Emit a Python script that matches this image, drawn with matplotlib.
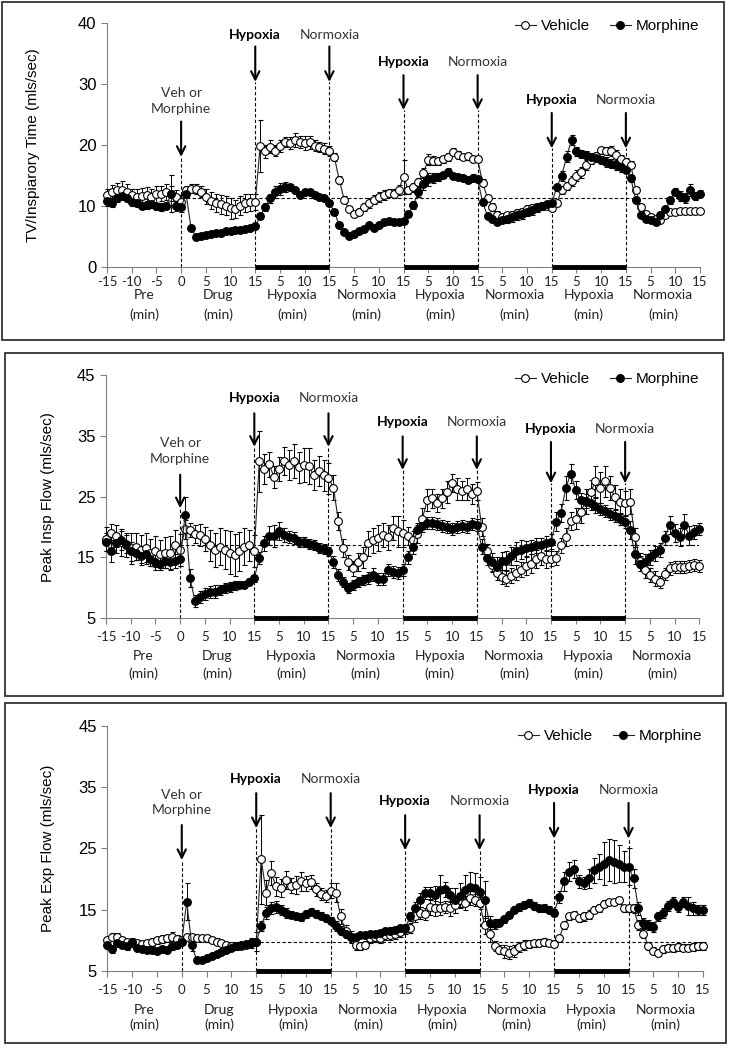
import numpy as np
import matplotlib
matplotlib.use('Agg')
import matplotlib.pyplot as plt
from matplotlib.lines import Line2D
from matplotlib.patches import Rectangle

# time axis: -15..0 pre, then 7 blocks of 15 min (one point per minute)
minutes = np.arange(-15, 106)
tick_pos = np.arange(-15, 106, 5)
tick_labels = ['-15', '-10', '-5', '0', '5', '10', '15'] + ['5', '10', '15'] * 6
segment_names = ['Pre', 'Drug', 'Hypoxia', 'Normoxia', 'Hypoxia', 'Normoxia', 'Hypoxia', 'Normoxia']
segment_centers = [-7.5, 7.5, 22.5, 37.5, 52.5, 67.5, 82.5, 97.5]
event_x = [15, 30, 45, 60, 75, 90]
event_labels = ['Hypoxia', 'Normoxia'] * 3
hypoxia_periods = [(15, 30), (45, 60), (75, 90)]

# ---- TV / inspiratory time
veh_tvti = [11.8, 12.2, 12.5, 12.6, 12.3, 11.8, 11.5, 11.6, 11.8, 11.5, 11.9, 12.0, 12.2, 12.0, 11.5, 10.6,
            12.5, 12.8, 12.7, 12.3, 11.5, 10.8, 10.5, 10.2, 10.0, 9.6, 9.5, 10.0, 10.4, 10.6, 10.6,
            19.8, 18.9, 19.7, 19.0, 19.8, 20.4, 20.3, 20.8, 20.5, 20.3, 20.4, 19.8, 19.6, 19.3, 19.0,
            18.0, 14.2, 11.0, 9.4, 8.6, 9.0, 9.8, 10.4, 11.0, 11.4, 11.8, 12.1, 12.0, 12.6, 14.7,
            12.6, 13.0, 13.9, 15.3, 17.5, 17.4, 17.3, 17.6, 18.0, 18.8, 18.3, 18.0, 18.1, 17.7, 17.6,
            13.8, 11.2, 9.8, 8.5, 8.2, 8.4, 8.5, 8.8, 9.0, 9.4, 9.6, 9.8, 10.0, 10.0, 9.7,
            10.4, 12.6, 13.2, 14.0, 14.9, 15.5, 16.7, 17.5, 18.2, 19.1, 19.0, 19.0, 18.3, 17.6, 17.2,
            16.7, 12.6, 9.8, 8.6, 8.2, 7.8, 7.7, 8.5, 8.9, 9.0, 9.1, 9.1, 9.1, 9.2, 9.2]
veh_tvti_err = [1.0, 1.2, 1.3, 1.5, 1.2, 1.0, 1.2, 1.3, 1.2, 1.3, 1.4, 1.2, 1.3, 1.2, 1.0, 1.2,
                0.8, 0.7, 0.8, 0.9, 1.2, 1.4, 1.5, 1.5, 1.6, 1.7, 1.5, 1.6, 1.5, 1.4, 1.3,
                4.2, 1.0, 1.1, 0.9, 1.0, 0.8, 1.0, 1.1, 1.0, 1.2, 1.1, 0.9, 0.8, 0.9, 0.8,
                0.6, 0.6, 0.6, 0.5, 0.5, 0.6, 0.7, 0.8, 0.8, 0.8, 0.8, 0.7, 0.7, 0.8, 2.8,
                0.6, 0.7, 0.7, 0.8, 0.9, 0.8, 0.7, 0.6, 0.7, 0.6, 0.6, 0.5, 0.6, 0.5, 0.5,
                0.5, 0.5, 0.6, 0.6, 0.6, 0.5, 0.6, 0.6, 0.7, 0.7, 0.7, 0.7, 0.6, 0.5, 0.5,
                0.5, 0.6, 0.7, 0.8, 0.9, 0.9, 0.8, 0.7, 0.6, 0.6, 0.7, 0.8, 0.8, 0.7, 0.6,
                0.6, 0.5, 0.5, 0.4, 0.4, 0.4, 0.4, 0.4, 0.3, 0.3, 0.3, 0.3, 0.3, 0.3, 0.3]
mor_tvti = [10.8, 10.5, 11.2, 11.6, 11.2, 10.6, 10.4, 10.0, 10.1, 10.2, 9.9, 9.8, 10.0, 12.0, 10.0, 9.8,
            11.9, 6.4, 4.9, 5.0, 5.2, 5.4, 5.5, 5.6, 5.8, 5.9, 6.0, 6.0, 6.1, 6.3, 6.6,
            8.3, 9.8, 11.2, 12.3, 12.8, 13.1, 13.0, 12.5, 11.8, 12.2, 12.3, 11.8, 11.5, 11.2, 10.5,
            9.0, 6.8, 5.7, 5.0, 5.4, 5.9, 6.2, 6.8, 6.4, 6.8, 7.3, 7.5, 7.3, 7.4, 7.5,
            8.7, 10.1, 12.3, 13.5, 14.3, 14.6, 14.7, 15.0, 15.6, 14.8, 14.7, 14.5, 14.2, 14.6, 14.3,
            10.6, 8.3, 7.8, 7.4, 7.6, 7.8, 8.1, 8.4, 8.7, 9.0, 9.3, 9.6, 9.9, 10.2, 10.5,
            13.0, 14.9, 18.0, 20.8, 18.9, 18.5, 18.3, 18.0, 17.8, 17.5, 17.2, 16.9, 16.6, 16.3, 15.9,
            14.5, 10.9, 8.5, 7.9, 7.6, 7.4, 8.5, 9.5, 10.9, 12.3, 11.6, 11.3, 12.6, 11.6, 12.0]
mor_tvti_err = [0.8, 0.7, 0.6, 0.6, 0.6, 0.7, 0.6, 0.6, 0.7, 0.6, 0.6, 0.7, 0.6, 3.0, 0.8, 0.9,
                0.5, 0.4, 0.3, 0.3, 0.3, 0.3, 0.3, 0.3, 0.3, 0.3, 0.3, 0.3, 0.3, 0.3, 0.3,
                0.5, 0.7, 0.8, 1.0, 1.0, 0.8, 0.6, 0.5, 0.5, 0.4, 0.4, 0.4, 0.4, 0.4, 0.4,
                0.5, 0.4, 0.3, 0.3, 0.3, 0.3, 0.3, 0.3, 0.3, 0.3, 0.3, 0.3, 0.3, 0.3, 0.3,
                0.5, 0.6, 0.8, 1.0, 1.0, 0.8, 0.6, 0.5, 0.5, 0.5, 0.4, 0.5, 0.5, 0.6, 0.6,
                0.5, 0.4, 0.4, 0.4, 0.5, 0.6, 0.7, 0.7, 0.8, 0.7, 0.8, 0.7, 0.6, 0.6, 0.5,
                0.6, 0.8, 0.9, 0.8, 0.7, 0.6, 0.6, 0.6, 0.7, 0.7, 0.8, 0.8, 0.8, 0.7, 0.6,
                0.6, 0.5, 0.4, 0.4, 0.4, 0.4, 0.5, 0.5, 0.6, 0.6, 0.8, 0.8, 1.0, 0.6, 0.5]

# ---- Peak inspiratory flow
veh_pif = [18.0, 19.0, 18.5, 17.5, 17.0, 16.5, 16.8, 16.2, 16.5, 15.8, 16.0, 15.5, 15.8, 15.7, 17.0, 16.2,
           19.6, 19.5, 18.8, 18.7, 18.0, 17.0, 16.2, 16.8, 16.3, 15.8, 15.4, 16.0, 16.8, 17.0, 16.1,
           30.8, 29.5, 30.3, 28.2, 29.5, 30.8, 30.2, 30.8, 29.8, 30.2, 30.0, 28.6, 29.2, 28.5, 28.0,
           26.5, 21.0, 16.5, 14.2, 13.2, 14.3, 15.0, 17.3, 17.8, 18.2, 18.7, 18.3, 19.8, 19.3, 19.0,
           18.5, 17.8, 18.8, 21.4, 24.5, 24.7, 24.0, 24.7, 25.8, 27.2, 26.3, 26.0, 26.3, 25.4, 25.9,
           20.0, 16.0, 13.8, 12.5, 11.8, 11.5, 12.0, 12.5, 13.0, 13.6, 14.0, 14.8, 15.2, 14.8, 14.8,
           14.9, 17.0, 18.4, 21.0, 21.4, 22.5, 24.2, 25.8, 27.5, 26.5, 27.5, 26.4, 24.9, 24.2, 24.0,
           24.2, 18.3, 14.5, 12.9, 12.1, 11.5, 11.0, 12.3, 13.2, 13.4, 13.4, 13.4, 13.6, 13.7, 13.6]
veh_pif_err = [2.0, 1.5, 1.8, 2.2, 2.0, 2.5, 2.2, 2.5, 2.6, 2.2, 2.5, 2.3, 2.5, 2.8, 2.5, 2.6,
               1.5, 1.2, 1.5, 1.8, 2.0, 2.5, 2.8, 3.0, 3.2, 3.5, 3.5, 3.2, 3.0, 2.5, 2.6,
               5.0, 2.5, 2.0, 1.8, 2.0, 2.3, 2.5, 2.8, 2.6, 2.8, 3.0, 2.5, 2.5, 2.6, 2.5,
               2.0, 1.5, 1.5, 1.2, 1.2, 1.5, 1.8, 2.0, 2.0, 2.2, 2.0, 2.0, 2.0, 2.5, 2.2,
               1.5, 1.5, 1.5, 1.8, 1.8, 1.5, 1.5, 1.5, 1.8, 1.5, 1.8, 1.5, 1.8, 1.6, 1.5,
               1.5, 1.2, 1.2, 1.2, 1.2, 1.2, 1.2, 1.2, 1.2, 1.5, 1.5, 1.5, 1.5, 1.5, 1.2,
               1.2, 1.2, 1.5, 1.5, 1.8, 1.8, 2.0, 2.0, 2.5, 2.5, 2.5, 2.0, 2.0, 2.0, 2.0,
               2.0, 1.5, 1.2, 1.2, 1.2, 1.2, 1.0, 1.0, 1.0, 1.0, 1.0, 1.0, 1.0, 1.0, 1.0]
mor_pif = [17.6, 16.0, 17.3, 17.8, 17.2, 16.0, 15.8, 15.3, 15.5, 14.8, 14.2, 14.0, 14.5, 14.3, 14.4, 14.8,
           22.0, 11.6, 7.8, 8.5, 9.0, 9.3, 9.4, 9.6, 10.0, 10.2, 10.4, 10.5, 10.5, 11.0, 11.6,
           14.9, 17.3, 18.6, 18.5, 19.3, 18.7, 18.3, 18.2, 17.5, 17.6, 17.2, 17.0, 16.6, 16.4, 16.0,
           14.3, 12.1, 11.0, 10.0, 10.5, 11.0, 11.3, 11.6, 12.2, 11.5, 11.4, 12.9, 12.6, 12.5, 13.0,
           15.0, 16.8, 19.5, 20.2, 20.7, 20.6, 20.5, 20.2, 20.0, 19.7, 20.0, 20.2, 20.0, 20.5, 20.3,
           16.8, 14.9, 14.3, 13.5, 14.4, 14.5, 15.2, 16.0, 16.3, 16.5, 16.7, 17.0, 17.0, 17.3, 17.6,
           20.9, 22.3, 26.4, 28.8, 26.1, 24.4, 24.3, 24.0, 23.5, 23.0, 22.6, 22.2, 21.8, 21.3, 20.9,
           19.5, 15.5, 14.0, 14.3, 15.0, 15.7, 16.2, 18.2, 20.3, 19.0, 18.4, 20.3, 18.6, 19.2, 19.7]
mor_pif_err = [1.5, 1.8, 1.5, 1.5, 1.5, 1.5, 1.2, 1.2, 1.2, 1.2, 1.2, 1.0, 1.2, 1.2, 1.2, 1.2,
               3.0, 1.5, 1.0, 1.0, 1.0, 1.0, 1.0, 0.8, 0.8, 0.8, 0.8, 0.6, 0.6, 0.6, 0.6,
               1.0, 1.2, 1.5, 1.8, 1.5, 1.2, 1.0, 1.0, 0.8, 0.8, 0.8, 0.8, 0.8, 0.8, 0.8,
               1.0, 1.0, 0.8, 0.8, 0.8, 0.8, 0.8, 1.0, 1.0, 1.0, 1.0, 1.0, 1.0, 1.0, 1.0,
               1.0, 1.2, 1.2, 1.0, 1.0, 1.0, 1.0, 1.0, 1.0, 1.0, 1.0, 1.0, 1.0, 1.0, 1.0,
               1.2, 1.2, 1.5, 1.5, 1.5, 1.5, 1.5, 1.5, 1.5, 1.2, 1.2, 1.2, 1.2, 1.2, 1.2,
               1.5, 1.5, 2.0, 1.5, 1.5, 1.2, 1.2, 1.2, 1.2, 1.0, 1.0, 1.0, 1.0, 1.0, 1.0,
               1.5, 1.5, 1.2, 1.2, 1.2, 1.2, 1.2, 1.2, 1.5, 1.5, 1.5, 1.8, 1.5, 1.2, 1.0]

# ---- Peak expiratory flow
veh_pef = [10.0, 10.6, 10.5, 10.0, 9.7, 9.5, 9.6, 9.4, 9.6, 9.8, 10.0, 10.2, 10.3, 10.6, 10.2, 10.0,
           10.5, 10.5, 10.4, 10.4, 10.3, 10.0, 9.8, 9.5, 9.3, 9.0, 9.0, 9.1, 9.3, 9.5, 9.8,
           23.2, 17.8, 21.0, 18.8, 18.5, 19.8, 18.9, 19.0, 19.6, 19.3, 19.5, 18.3, 17.6, 17.2, 18.1,
           17.8, 13.9, 11.5, 10.5, 9.2, 9.0, 9.3, 10.3, 10.6, 10.4, 10.8, 10.8, 11.0, 11.3, 11.8,
           12.0, 14.0, 14.5, 14.3, 15.4, 15.2, 15.2, 15.4, 15.2, 15.7, 16.6, 16.1, 16.9, 16.6, 16.1,
           12.5, 11.0, 9.1, 8.5, 8.2, 8.0, 8.3, 8.9, 9.2, 9.4, 9.5, 9.6, 9.7, 9.5, 9.4,
           10.3, 12.5, 13.9, 14.2, 13.6, 13.9, 14.2, 15.0, 15.3, 16.0, 16.2, 16.2, 16.5, 15.2, 15.2,
           15.2, 12.5, 11.1, 9.1, 8.3, 8.0, 8.6, 8.8, 8.7, 8.9, 8.8, 8.8, 8.9, 9.0, 9.1]
veh_pef_err = [0.6, 0.6, 0.7, 0.5, 0.5, 0.5, 0.5, 0.5, 0.5, 0.6, 0.6, 0.6, 0.6, 0.7, 0.6, 0.6,
               0.5, 0.5, 0.5, 0.5, 0.5, 0.5, 0.5, 0.5, 0.5, 0.5, 0.5, 0.5, 0.6, 0.8, 1.5,
               7.3, 2.0, 2.0, 1.5, 1.5, 1.5, 1.2, 1.5, 1.5, 1.2, 1.2, 1.0, 1.0, 1.0, 1.2,
               1.5, 1.2, 1.0, 1.0, 0.8, 0.6, 0.6, 0.8, 0.8, 0.8, 0.8, 0.8, 0.8, 0.8, 0.8,
               0.8, 1.0, 1.0, 1.0, 1.2, 1.2, 1.0, 1.0, 1.2, 1.2, 1.2, 1.2, 1.2, 1.0, 1.0,
               1.5, 1.2, 0.8, 0.8, 1.0, 1.0, 1.0, 0.8, 0.8, 0.6, 0.6, 0.6, 0.6, 0.5, 0.5,
               0.5, 0.6, 0.6, 0.6, 0.6, 0.8, 0.8, 0.6, 0.6, 0.5, 0.5, 0.5, 0.5, 0.6, 0.6,
               0.8, 0.8, 0.8, 0.6, 0.6, 0.6, 0.6, 0.6, 0.6, 0.6, 0.6, 0.6, 0.6, 0.6, 0.6]
mor_pef = [9.2, 8.6, 9.6, 9.2, 9.0, 9.8, 8.8, 8.6, 8.4, 8.5, 8.3, 8.6, 8.4, 9.0, 9.2, 9.8,
           16.3, 9.3, 6.8, 6.8, 7.1, 7.4, 7.8, 8.1, 8.5, 8.8, 9.0, 9.2, 9.4, 9.5, 9.7,
           12.4, 14.5, 15.3, 15.4, 15.0, 14.5, 14.2, 13.9, 13.8, 14.3, 14.7, 14.3, 14.0, 13.6, 13.2,
           12.4, 11.6, 11.0, 10.6, 10.6, 10.8, 10.8, 11.0, 11.0, 11.2, 11.5, 11.6, 11.7, 12.0, 12.0,
           13.9, 15.2, 16.6, 17.7, 17.7, 17.4, 18.2, 18.3, 17.4, 16.5, 17.3, 18.2, 18.7, 18.5, 17.9,
           16.6, 12.9, 12.6, 12.9, 13.4, 14.2, 15.0, 15.4, 15.8, 16.1, 15.6, 15.2, 15.3, 15.0, 14.5,
           17.1, 19.6, 21.2, 21.6, 19.6, 19.4, 20.1, 21.4, 22.0, 22.5, 23.1, 22.8, 22.5, 22.0, 22.0,
           20.1, 15.2, 12.8, 12.5, 12.2, 13.9, 14.4, 15.6, 16.3, 15.5, 16.3, 15.6, 15.2, 14.9, 15.0]
mor_pef_err = [0.6, 0.6, 0.6, 0.5, 0.5, 0.5, 0.5, 0.5, 0.5, 0.5, 0.5, 0.5, 0.5, 0.5, 0.5, 0.6,
               3.0, 1.0, 0.3, 0.3, 0.3, 0.3, 0.3, 0.3, 0.3, 0.3, 0.3, 0.3, 0.3, 0.3, 0.3,
               0.8, 1.0, 1.0, 1.0, 0.8, 0.8, 0.6, 0.6, 0.6, 0.6, 0.6, 0.6, 0.6, 0.6, 0.6,
               0.8, 0.8, 0.6, 0.5, 0.5, 0.5, 0.5, 0.5, 0.5, 0.5, 0.5, 0.5, 0.5, 0.5, 0.5,
               0.8, 1.0, 1.2, 1.0, 1.0, 1.5, 2.5, 1.2, 1.2, 2.0, 2.0, 2.5, 2.5, 2.5, 2.5,
               3.0, 1.0, 0.8, 0.6, 0.6, 0.6, 0.6, 0.6, 0.6, 0.6, 0.6, 0.6, 0.6, 0.6, 0.6,
               1.0, 1.5, 1.5, 1.5, 1.0, 1.0, 1.5, 2.0, 2.0, 3.5, 3.5, 3.5, 3.0, 2.5, 3.0,
               1.5, 1.0, 0.8, 0.8, 0.8, 0.8, 0.8, 0.8, 0.8, 0.8, 0.8, 1.5, 1.0, 0.8, 0.8]

y_labels = ['TV/Inspiarory Time (mls/sec)', 'Peak Insp Flow (mls/sec)', 'Peak Exp Flow (mls/sec)']
y_limits = [(0, 40), (5, 45), (5, 45)]
y_ticks = [[0, 10, 20, 30, 40], [5, 15, 25, 35, 45], [5, 15, 25, 35, 45]]
baselines = [11.2, 17.0, 9.8]

W, H = 729, 1050
fig = plt.figure(figsize=(W / 100, H / 100), dpi=100)

# layout in pixels (left, y of bottom axis, width, height)
axes_px = [(107, 266.7, 593, 244), (106, 618.3, 593.3, 243.3), (107.3, 971, 595.7, 245.3)]
boxes_px = [(2, 2, 724, 340), (5, 353, 723, 696), (5, 703, 726, 1043)]
legend_px = [(699, 19), (699, 372), (702, 729)]
ylabel_x = [-0.113, -0.086, -0.088]
seg_offsets = [(28, 48), (38, 55), (39, 54)]
tick_pads = [3, 5, 5]
# text / arrow heights (data units): veh text centre, veh arrow top, veh arrow tip
veh_marks = [(27.2, 23.8, 18.0), (32.5, 28.6, 23.1), (32.5, 28.8, 23.1)]
# per event pair: (text y, arrow top, arrow tip)
event_marks = [[(38.0, 36.1, 30.3), (33.6, 31.4, 25.7), (27.4, 25.2, 19.4)],
               [(41.2, 38.7, 33.2), (37.2, 34.9, 29.4), (36.2, 34.0, 27.2)],
               [(36.3, 34.0, 28.3), (32.7, 30.4, 24.7), (34.5, 32.4, 26.6)]]

series = [(veh_tvti, veh_tvti_err, mor_tvti, mor_tvti_err),
          (veh_pif, veh_pif_err, mor_pif, mor_pif_err),
          (veh_pef, veh_pef_err, mor_pef, mor_pef_err)]

axis_grey = '#808080'
note_font = 'Lato'
num_font = 'Liberation Sans'

for i in range(3):
    l, yb, w, h = axes_px[i]
    ax = fig.add_axes([l / W, 1 - yb / H, w / W, h / H])
    ymin, ymax = y_limits[i]
    ax.set_xlim(-15, 105)
    ax.set_ylim(ymin, ymax)
    for s in ['top', 'right']:
        ax.spines[s].set_visible(False)
    for s in ['left', 'bottom']:
        ax.spines[s].set_color(axis_grey)
        ax.spines[s].set_linewidth(0.8)
    ax.set_xticks(tick_pos)
    ax.set_xticklabels(tick_labels, family=note_font, fontsize=9.5, color='#222222')
    ax.set_yticks(y_ticks[i])
    ax.set_yticklabels([str(t) for t in y_ticks[i]], family=num_font, fontsize=12)
    ax.tick_params(axis='both', direction='out', length=4, width=0.8, color=axis_grey)
    ax.tick_params(axis='x', pad=tick_pads[i])
    ax.set_ylabel(y_labels[i], family=num_font, fontsize=11)
    ax.yaxis.set_label_coords(ylabel_x[i], 0.5)

    veh, veh_err, mor, mor_err = series[i]
    for vals, errs, face in [(veh, veh_err, 'white'), (mor, mor_err, 'black')]:
        eb = ax.errorbar(minutes, vals, yerr=errs, fmt='-o', color='#222222', lw=0.8,
                         ms=5.6, mfc=face, mec='black', mew=0.8, ecolor='black',
                         elinewidth=0.7, capsize=1.8, capthick=0.7, zorder=3)
        for art in eb.get_children():
            art.set_clip_on(False)

    # baseline
    ax.plot([0, 105], [baselines[i], baselines[i]], color='black', lw=0.8,
            ls=(0, (3, 2)), zorder=1)

    # hypoxia bars on the x axis
    for a, b in hypoxia_periods:
        ax.plot([a, b], [ymin, ymin], color='black', lw=3.5, solid_capstyle='butt',
                clip_on=False, zorder=4)

    # drug injection arrow
    ty, top, tip = veh_marks[i]
    ax.text(0, ty, 'Veh or\nMorphine', ha='center', va='center', family=note_font,
            fontsize=10, color='#333333', linespacing=1.35)
    ax.annotate('', xy=(0, tip), xytext=(0, top),
                arrowprops=dict(arrowstyle='->,head_length=0.6,head_width=0.3',
                                lw=1.5, color='black', mutation_scale=10,
                                shrinkA=0, shrinkB=0))
    ax.plot([0, 0], [ymin, tip], color='black', lw=0.8, ls=(0, (3, 2)), zorder=1)

    for k, ex in enumerate(event_x):
        ty, top, tip = event_marks[i][k // 2]
        bold = event_labels[k] == 'Hypoxia'
        ax.text(ex, ty, event_labels[k], ha='center', va='center', family=note_font,
                fontsize=10, fontweight='bold' if bold else 'normal',
                color='black' if bold else '#333333')
        ax.annotate('', xy=(ex, tip), xytext=(ex, top),
                    arrowprops=dict(arrowstyle='->,head_length=0.6,head_width=0.3',
                                    lw=1.5, color='black', mutation_scale=10,
                                    shrinkA=0, shrinkB=0))
        ax.plot([ex, ex], [ymin, tip], color='black', lw=0.8, ls=(0, (3, 2)), zorder=1)

    # segment labels under the axis
    o1, o2 = seg_offsets[i]
    for name, cx in zip(segment_names, segment_centers):
        ax.annotate(name, xy=(cx, 0), xycoords=ax.get_xaxis_transform(), xytext=(0, -o1),
                    textcoords='offset pixels', ha='center', va='center',
                    family=note_font, fontsize=10, color='#222222')
        ax.annotate('(min)', xy=(cx, 0), xycoords=ax.get_xaxis_transform(), xytext=(0, -o2),
                    textcoords='offset pixels', ha='center', va='center',
                    family=note_font, fontsize=10, color='#222222')

    handles = [Line2D([], [], color='#222222', lw=0.8, marker='o', ms=5.6, mfc='white',
                      mec='black', mew=0.8),
               Line2D([], [], color='#222222', lw=0.8, marker='o', ms=5.6, mfc='black',
                      mec='black', mew=0.8)]
    lx, ly = legend_px[i]
    ax.legend(handles, ['Vehicle', 'Morphine'], ncol=2, loc='upper right',
              bbox_to_anchor=(lx / W, 1 - ly / H), bbox_transform=fig.transFigure,
              frameon=False, borderpad=0, borderaxespad=0, handlelength=1.4,
              handletextpad=0.3, columnspacing=1.3, prop={'family': num_font, 'size': 11})

    x0, y0, x1, y1 = boxes_px[i]
    fig.patches.append(Rectangle((x0 / W, 1 - y1 / H), (x1 - x0) / W, (y1 - y0) / H,
                                 transform=fig.transFigure, fill=False,
                                 edgecolor='#333333', lw=1.3))

fig.savefig('out.png', dpi=100)
